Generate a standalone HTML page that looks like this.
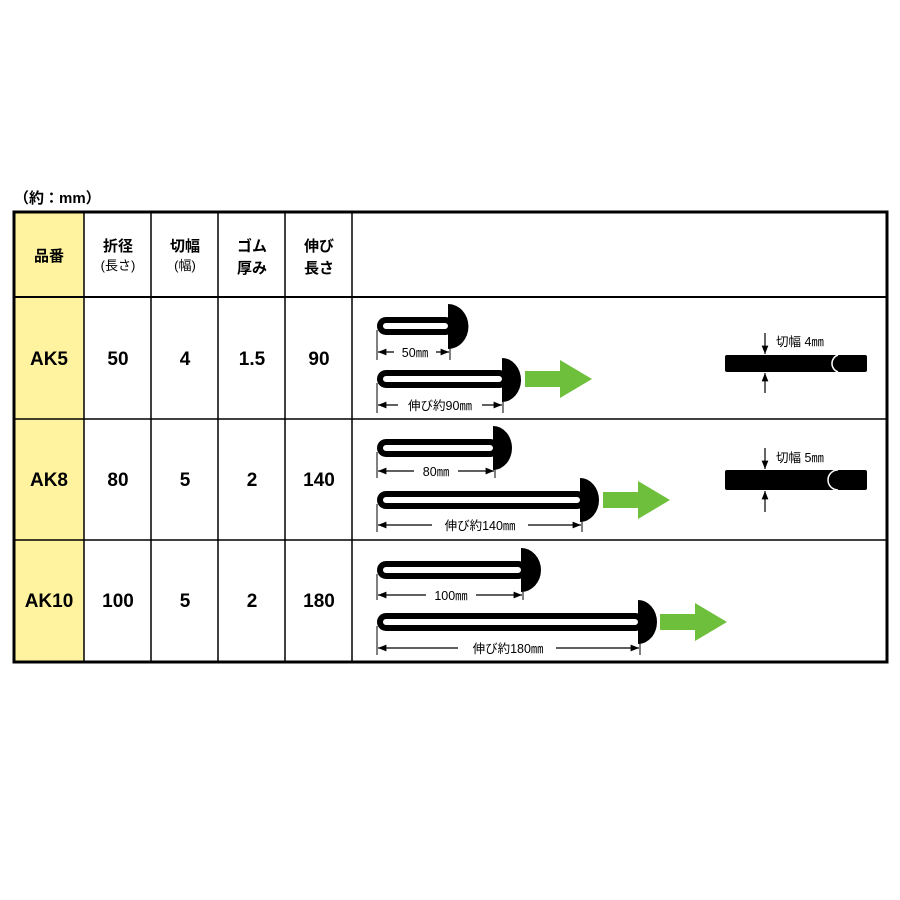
<!DOCTYPE html>
<html><head><meta charset="utf-8"><style>
body{margin:0;background:#fff;}
svg{display:block;font-family:"Liberation Sans","Noto Sans CJK JP",sans-serif;}
.h{font-size:15px;font-weight:bold;text-anchor:middle;}
.s{font-size:13px;text-anchor:middle;}
.v{font-size:19px;font-weight:bold;text-anchor:middle;}
.d{font-size:12.5px;text-anchor:middle;}
.slot{fill:#fff;stroke:#000;stroke-width:6;}
</style></head><body>
<svg width="900" height="900" viewBox="0 0 900 900">
<defs>
<marker id="a" viewBox="0 0 10 10" refX="10" refY="5" markerWidth="7" markerHeight="7" orient="auto-start-reverse"><path d="M0,1 L10,5 L0,9 Z" fill="#000"/></marker>
</defs>
<text x="14" y="203" style="font-size:15px;font-weight:bold">（約：mm）</text>
<rect x="14" y="212" width="70" height="450" fill="#fff3a0"/>
<g stroke="#000" fill="none">
<rect x="14" y="212" width="873" height="450" stroke-width="3"/>
<line x1="14" y1="297" x2="887" y2="297" stroke-width="2"/>
<line x1="14" y1="419" x2="887" y2="419" stroke-width="1.5"/>
<line x1="14" y1="540" x2="887" y2="540" stroke-width="1.5"/>
<line x1="84" y1="212" x2="84" y2="662" stroke-width="1.5"/>
<line x1="151" y1="212" x2="151" y2="662" stroke-width="1.5"/>
<line x1="218" y1="212" x2="218" y2="662" stroke-width="1.5"/>
<line x1="285" y1="212" x2="285" y2="662" stroke-width="1.5"/>
<line x1="352" y1="212" x2="352" y2="662" stroke-width="1.5"/>
</g>
<text class="h" x="49" y="261">品番</text>
<text class="h" x="118" y="251">折径</text><text class="s" x="118" y="270">(長さ)</text>
<text class="h" x="185" y="251">切幅</text><text class="s" x="185" y="270">(幅)</text>
<text class="h" x="252" y="251">ゴム</text><text class="h" x="252" y="273">厚み</text>
<text class="h" x="319" y="251">伸び</text><text class="h" x="319" y="273">長さ</text>

<g class="v">
<text x="49" y="365">AK5</text><text x="118" y="365">50</text><text x="185" y="365">4</text><text x="252" y="365">1.5</text><text x="319" y="365">90</text>
<text x="49" y="486">AK8</text><text x="118" y="486">80</text><text x="185" y="486">5</text><text x="252" y="486">2</text><text x="319" y="486">140</text>
<text x="49" y="607">AK10</text><text x="118" y="607">100</text><text x="185" y="607">5</text><text x="252" y="607">2</text><text x="319" y="607">180</text>
</g>

<g>
<rect class="slot" x="380" y="320" width="71" height="12" rx="6"/><path d="M448,304 A20,22 0 0 1 448,349 Z"/>
<rect class="slot" x="380" y="373" width="125" height="12" rx="6"/><path d="M502,358 A19,22 0 0 1 502,402 Z"/>
<rect class="slot" x="380" y="442" width="116" height="12" rx="6"/><path d="M493,426 A19,22 0 0 1 493,470 Z"/>
<rect class="slot" x="380" y="494" width="203" height="12" rx="6"/><path d="M580,478 A19,22 0 0 1 580,522 Z"/>
<rect class="slot" x="380" y="564" width="144" height="12" rx="6"/><path d="M521,548 A20,22 0 0 1 521,592 Z"/>
<rect class="slot" x="380" y="616" width="261" height="12" rx="6"/><path d="M638,600 A19,22 0 0 1 638,644 Z"/>
</g>
<g stroke="#000" stroke-width="1">
<line x1="377" y1="330" x2="377" y2="360"/><line x1="450" y1="345" x2="450" y2="360"/>
<line x1="377" y1="383" x2="377" y2="413"/><line x1="503" y1="398" x2="503" y2="413"/>
<line x1="377" y1="452" x2="377" y2="478"/><line x1="495" y1="466" x2="495" y2="478"/>
<line x1="377" y1="504" x2="377" y2="532"/><line x1="582" y1="518" x2="582" y2="532"/>
<line x1="377" y1="574" x2="377" y2="600"/><line x1="523" y1="588" x2="523" y2="600"/>
<line x1="377" y1="626" x2="377" y2="655"/><line x1="640" y1="640" x2="640" y2="655"/>
</g>
<g stroke="#000" stroke-width="1.2" marker-start="url(#a)" marker-end="url(#a)">
<line x1="378" y1="352" x2="449" y2="352"/>
<line x1="378" y1="405" x2="502" y2="405"/>
<line x1="378" y1="471" x2="494" y2="471"/>
<line x1="378" y1="525" x2="581" y2="525"/>
<line x1="378" y1="595" x2="522" y2="595"/>
<line x1="378" y1="648" x2="639" y2="648"/>
</g>
<g class="d">
<rect x="394" y="345" width="42" height="14" fill="#fff"/><text x="415" y="357">50㎜</text>
<rect x="398" y="398" width="84" height="14" fill="#fff"/><text x="440" y="410">伸び約90㎜</text>
<rect x="414" y="464" width="44" height="14" fill="#fff"/><text x="436" y="476">80㎜</text>
<rect x="432" y="518" width="96" height="14" fill="#fff"/><text x="480" y="530">伸び約140㎜</text>
<rect x="426" y="588" width="50" height="14" fill="#fff"/><text x="451" y="600">100㎜</text>
<rect x="458" y="641" width="98" height="14" fill="#fff"/><text x="508" y="653">伸び約180㎜</text>
</g>
<g fill="#6dbf3c">
<path d="M525,371 H560 V360 L592,379 L560,398 V387 H525 Z"/>
<path d="M603,492 H638 V481 L670,500 L638,519 V508 H603 Z"/>
<path d="M660,614 H695 V603 L727,622 L695,641 V630 H660 Z"/>
</g>
<rect x="725" y="355" width="142" height="17" rx="2"/>
<path d="M838,355 A9,9 0 0 0 838,372" fill="none" stroke="#fff" stroke-width="1.5"/>
<rect x="725" y="470" width="142" height="20" rx="2"/>
<path d="M838,470 A10,10 0 0 0 838,490" fill="none" stroke="#fff" stroke-width="1.5"/>
<g stroke="#000" stroke-width="1.2">
<line x1="765" y1="333" x2="765" y2="354" marker-end="url(#a)"/>
<line x1="765" y1="393" x2="765" y2="373" marker-end="url(#a)"/>
<line x1="765" y1="448" x2="765" y2="469" marker-end="url(#a)"/>
<line x1="765" y1="512" x2="765" y2="491" marker-end="url(#a)"/>
</g>
<text x="776" y="346" style="font-size:12.5px">切幅 4㎜</text>
<text x="776" y="462" style="font-size:12.5px">切幅 5㎜</text>
</svg>
</body></html>
